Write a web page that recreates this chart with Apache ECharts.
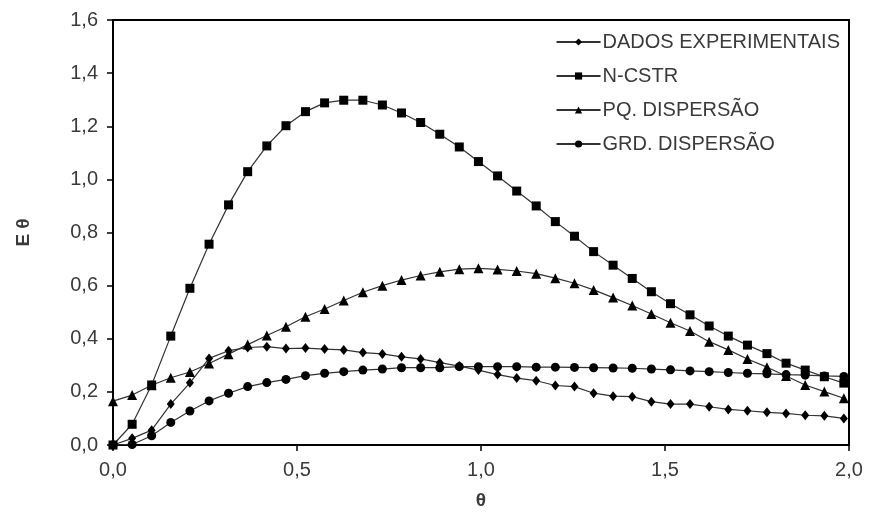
<!DOCTYPE html>
<html>
<head>
<meta charset="utf-8">
<script src="https://cdn.jsdelivr.net/npm/echarts@6/dist/echarts.min.js"></script>
<style>
html,body{margin:0;padding:0;background:#fff;}
#chart{width:869px;height:515px;}
</style>
</head>
<body>
<div id="chart"></div>
<script>
var theta = [0, 0.052, 0.105, 0.157, 0.209, 0.261, 0.314, 0.366, 0.418, 0.470,
  0.523, 0.575, 0.627, 0.679, 0.732, 0.784, 0.836, 0.888, 0.941, 0.993,
  1.045, 1.097, 1.150, 1.202, 1.254, 1.306, 1.359, 1.411, 1.463, 1.515,
  1.568, 1.620, 1.672, 1.724, 1.777, 1.829, 1.881, 1.933, 1.986];

var dados = [0, 0.025, 0.056, 0.154, 0.234, 0.326, 0.355, 0.367, 0.370, 0.363,
  0.365, 0.361, 0.358, 0.348, 0.343, 0.332, 0.324, 0.310, 0.297, 0.282,
  0.265, 0.252, 0.242, 0.224, 0.220, 0.195, 0.184, 0.182, 0.163, 0.154,
  0.154, 0.144, 0.134, 0.129, 0.123, 0.119, 0.112, 0.110, 0.100];

var ncstr = [0, 0.078, 0.226, 0.410, 0.590, 0.756, 0.904, 1.029, 1.126, 1.202,
  1.255, 1.288, 1.298, 1.298, 1.280, 1.250, 1.214, 1.170, 1.122, 1.067,
  1.013, 0.956, 0.900, 0.841, 0.786, 0.728, 0.677, 0.627, 0.577, 0.532,
  0.490, 0.448, 0.410, 0.376, 0.344, 0.308, 0.282, 0.257, 0.233];

var pq = [0.165, 0.188, 0.225, 0.253, 0.275, 0.307, 0.342, 0.378, 0.412, 0.445,
  0.483, 0.512, 0.544, 0.575, 0.600, 0.621, 0.638, 0.652, 0.662, 0.665,
  0.661, 0.655, 0.645, 0.628, 0.609, 0.584, 0.555, 0.525, 0.493, 0.460,
  0.429, 0.389, 0.358, 0.324, 0.293, 0.260, 0.226, 0.201, 0.176];

var grd = [0, 0.002, 0.035, 0.085, 0.128, 0.166, 0.195, 0.220, 0.235, 0.247,
  0.261, 0.270, 0.276, 0.282, 0.286, 0.291, 0.291, 0.291, 0.295, 0.295,
  0.295, 0.295, 0.293, 0.293, 0.292, 0.291, 0.290, 0.289, 0.286, 0.283,
  0.279, 0.276, 0.273, 0.270, 0.268, 0.265, 0.263, 0.260, 0.258];

var seriesNames = ['DADOS EXPERIMENTAIS', 'N-CSTR', 'PQ. DISPERSÃO', 'GRD. DISPERSÃO'];
var seriesValues = [dados, ncstr, pq, grd];
var seriesSymbols = ['diamond', 'rect', 'triangle', 'circle'];
var seriesSymbolSizes = [[8, 10], 9, 10, 9];

var xName = 'θ';
var yName = 'E θ';

function pairs(xs, ys) {
  var out = [];
  for (var i = 0; i < xs.length; i++) out.push([xs[i], ys[i]]);
  return out;
}
function fmt(v) { return v.toFixed(1).replace('.', ','); }

var textColor = '#3a3a3a';
var font = 'Liberation Sans, Arial, sans-serif';

var series = seriesNames.map(function (n, k) {
  return {
    name: n,
    type: 'line',
    data: pairs(theta, seriesValues[k]),
    symbol: seriesSymbols[k],
    symbolSize: seriesSymbolSizes[k],
    showAllSymbol: true,
    lineStyle: { color: '#333', width: 1.2 },
    itemStyle: { color: '#000', borderWidth: 0 },
    emphasis: { disabled: true },
    animation: false
  };
});

var chart = echarts.init(document.getElementById('chart'), null, { renderer: 'canvas' });
chart.setOption({
  backgroundColor: '#fff',
  animation: false,
  grid: { left: 113, top: 20, right: 20, bottom: 70, show: true, borderColor: '#000', borderWidth: 2, backgroundColor: 'transparent' },
  legend: {
    orient: 'vertical',
    right: 24,
    top: 27,
    itemWidth: 44,
    itemHeight: 9,
    itemGap: 14,
    data: seriesNames,
    textStyle: { fontSize: 20, color: textColor, fontFamily: font, padding: [0, 0, 0, -3] },
    backgroundColor: 'transparent'
  },
  xAxis: {
    type: 'value', min: 0, max: 2, interval: 0.5,
    name: xName, nameLocation: 'middle', nameGap: 46,
    nameTextStyle: { fontSize: 19, fontWeight: 'bold', color: textColor, fontFamily: font },
    axisLine: { show: true, onZero: false, lineStyle: { color: '#000', width: 2 } },
    axisTick: { show: true, inside: false, length: 6, lineStyle: { color: '#000', width: 1.5 } },
    axisLabel: { formatter: fmt, fontSize: 20, color: textColor, fontFamily: font, margin: 15 },
    splitLine: { show: false }
  },
  yAxis: {
    type: 'value', min: 0, max: 1.6, interval: 0.2,
    name: yName, nameLocation: 'middle', nameGap: 80, nameRotate: 90,
    nameTextStyle: { fontSize: 19, fontWeight: 'bold', color: textColor, fontFamily: font },
    axisLine: { show: true, onZero: false, lineStyle: { color: '#000', width: 2 } },
    axisTick: { show: true, inside: false, length: 6, lineStyle: { color: '#000', width: 1.5 } },
    axisLabel: { formatter: fmt, fontSize: 20, color: textColor, fontFamily: font, margin: 15 },
    splitLine: { show: false }
  },
  series: series
});
</script>
</body>
</html>
